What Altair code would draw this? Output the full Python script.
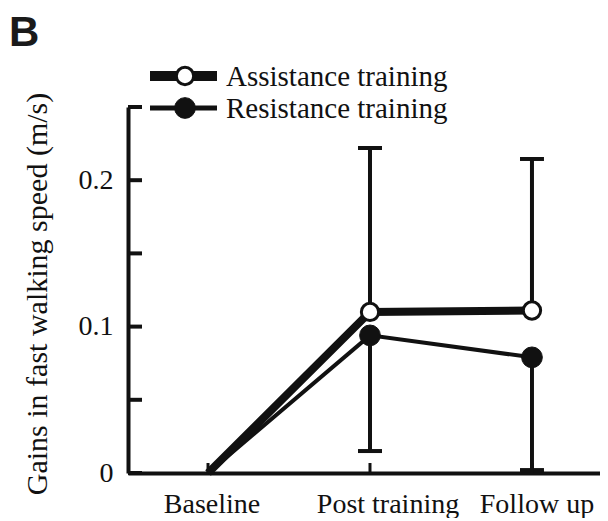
import altair as alt
import pandas as pd

stages = ["Baseline", "Post training", "Follow up"]
stage_idx = [1, 2, 3]
series_names = ["Assistance training", "Resistance training"]
assist_mean = [0.0, 0.110, 0.111]
resist_mean = [0.0, 0.094, 0.079]
assist_sd_top = [None, 0.222, 0.2145]
resist_sd_bottom = [None, 0.015, 0.002]
y_tick_values = [0, 0.05, 0.10, 0.15, 0.20, 0.25]
y_label_values = [0, 0.1, 0.2]
y_title = "Gains in fast walking speed (m/s)"

rows = []
for i, st in enumerate(stages):
    rows.append(dict(series=series_names[0], stage=st, idx=stage_idx[i],
                     mean=assist_mean[i], lo=assist_mean[i], hi=assist_sd_top[i],
                     cap=assist_sd_top[i]))
    rows.append(dict(series=series_names[1], stage=st, idx=stage_idx[i],
                     mean=resist_mean[i], lo=resist_sd_bottom[i], hi=resist_mean[i],
                     cap=resist_sd_bottom[i]))
df = pd.DataFrame(rows)
err = df.dropna(subset=["cap"])
assist = df[df.series == series_names[0]]
resist = df[df.series == series_names[1]]
stage_df = pd.DataFrame({"idx": stage_idx, "stage": stages})

FONT = "Liberation Serif"
INK = "#111111"
xs = alt.Scale(domain=[0.506, 3.42], nice=False, zero=False)
ys = alt.Scale(domain=[0, 0.25], nice=False, zero=False)

x_axis = alt.Axis(values=stage_idx, labels=False, ticks=False, grid=False,
                  domain=True, domainWidth=4, domainColor=INK, title="")
y_axis = alt.Axis(values=y_label_values,
                  labelExpr="datum.value == 0 ? '0' : format(datum.value, '.1f')",
                  ticks=False, grid=False, domain=True, domainWidth=4, domainColor=INK,
                  labelFont=FONT, labelFontSize=28, labelColor=INK, labelPadding=15,
                  title="")


def X():
    return alt.X("idx:Q", scale=xs, axis=x_axis, title="")


def Y(field):
    return alt.Y(field, scale=ys, axis=y_axis, title="")


y_ticks = alt.Chart(pd.DataFrame({"v": y_tick_values})).mark_rule(
    strokeWidth=4, color=INK).encode(
    y=Y("v:Q"), x=alt.value(0), x2=alt.value(14))

x_ticks = alt.Chart(stage_df).mark_rule(strokeWidth=3, color=INK).encode(
    x=X(), y=alt.value(366), y2=alt.value(356))

# category labels (slightly offset, as in the original figure)
label_dx = [4, 18, 5]
x_labels = []
for i, dx in enumerate(label_dx):
    x_labels.append(alt.Chart(stage_df[stage_df.idx == stage_idx[i]]).mark_text(
        align="center", baseline="alphabetic", font=FONT, fontSize=28, color=INK,
        dx=dx).encode(x=X(), y=alt.value(406), text="stage:N"))

y_title_mark = alt.Chart(pd.DataFrame({"t": [y_title]})).mark_text(
    align="center", baseline="middle", angle=270, font=FONT, fontSize=30,
    color=INK).encode(x=alt.value(-90), y=alt.value(187), text="t:N")

err_rules = alt.Chart(err).mark_rule(strokeWidth=4, color=INK).encode(
    x=X(), y=Y("lo:Q"), y2="hi:Q")

err_caps = alt.Chart(err).mark_tick(orient="horizontal", size=24, thickness=4,
                                    color=INK, opacity=1).encode(x=X(), y=Y("cap:Q"))

resist_line = alt.Chart(resist).mark_line(strokeWidth=4, color=INK).encode(
    x=X(), y=Y("mean:Q"), order="idx:Q")
assist_line = alt.Chart(assist).mark_line(strokeWidth=8, color=INK).encode(
    x=X(), y=Y("mean:Q"), order="idx:Q")

resist_pts = alt.Chart(resist[resist.idx > 1]).mark_point(
    shape="circle", filled=True, fill=INK, stroke=INK, strokeWidth=1,
    size=430, opacity=1).encode(x=X(), y=Y("mean:Q"))
assist_pts = alt.Chart(assist[assist.idx > 1]).mark_point(
    shape="circle", filled=True, fill="white", stroke=INK, strokeWidth=3,
    size=300, opacity=1).encode(x=X(), y=Y("mean:Q"))

# legend
leg_layers = []
leg_rows = [(series_names[0], -31, 10, "white", 3, 300),
            (series_names[1], 1, 5, INK, 1, 430)]
for name, yy, lw, fill, sw, sz in leg_rows:
    ldf = pd.DataFrame({"series": [name]})
    leg_layers.append(alt.Chart(ldf).mark_rule(strokeWidth=lw, color=INK).encode(
        x=alt.value(22), x2=alt.value(89), y=alt.value(yy)))
    leg_layers.append(alt.Chart(ldf).mark_point(
        shape="circle", filled=True, fill=fill, stroke=INK, strokeWidth=sw,
        size=sz, opacity=1).encode(x=alt.value(57), y=alt.value(yy)))
    leg_layers.append(alt.Chart(ldf).mark_text(
        align="left", baseline="middle", font=FONT, fontSize=29, color=INK).encode(
        x=alt.value(98), y=alt.value(yy + 1), text="series:N"))

panel = alt.Chart(pd.DataFrame({"t": ["B"]})).mark_text(
    align="left", baseline="alphabetic", font="Liberation Sans", fontWeight="bold",
    fontSize=42, color="#1a1a1a").encode(x=alt.value(-119), y=alt.value(-61), text="t:N")

chart = alt.layer(err_rules, err_caps, y_ticks, x_ticks, *x_labels, y_title_mark,
                  resist_line, assist_line, resist_pts, assist_pts,
                  *leg_layers, panel).properties(
    width=472, height=366, background="white",
    padding={"left": 120, "top": 99, "right": 0, "bottom": 45},
    autosize=alt.AutoSizeParams(type="none"),
).configure_view(stroke=None).configure_axis(labelFont=FONT)

chart.save("out.html", embed_options={"renderer": "svg", "actions": False})
